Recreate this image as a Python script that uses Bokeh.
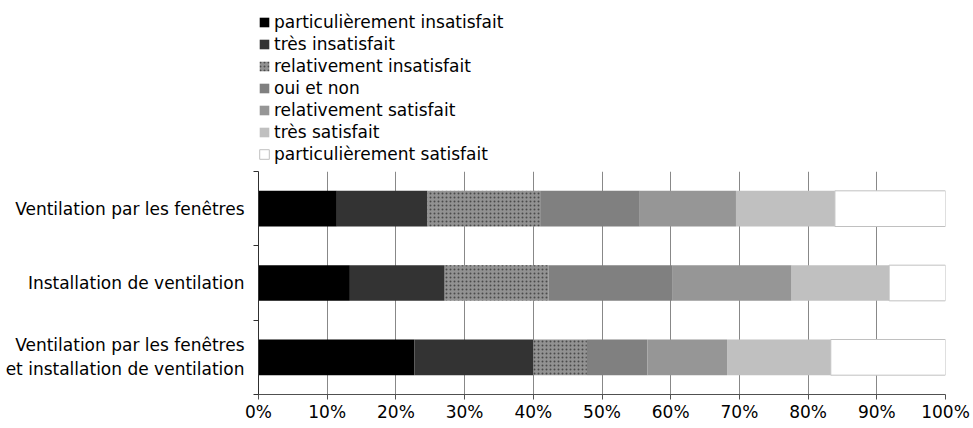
from bokeh.plotting import figure
from bokeh.layouts import column
from bokeh.models import ColumnDataSource, Legend, LegendItem, FixedTicker, PrintfTickFormatter, Range1d
from bokeh.embed import file_html
from bokeh.resources import INLINE

categories = ["Ventilation par les fenêtres",
              "Installation de ventilation",
              "Ventilation par les fenêtres\net installation de ventilation"]
series = ["particulièrement insatisfait", "très insatisfait", "relativement insatisfait",
          "oui et non", "relativement satisfait", "très satisfait", "particulièrement satisfait"]
part_insat = [11.4, 13.3, 22.7]
tres_insat = [13.2, 13.8, 17.3]
rel_insat = [16.4, 15.1, 7.8]
oui_non = [14.5, 18.1, 8.8]
rel_sat = [14.0, 17.3, 11.6]
tres_sat = [14.4, 14.2, 15.1]
part_sat = [16.1, 8.2, 16.7]
x_ticks = [0, 10, 20, 30, 40, 50, 60, 70, 80, 90, 100]

colors = ["#000000", "#333333", "#929292", "#808080", "#969696", "#c0c0c0", "#ffffff"]
lines = [None, None, None, None, None, None, "#c0c0c0"]
hatches = [" ", " ", "dot", " ", " ", " ", " "]
keys = ["s0", "s1", "s2", "s3", "s4", "s5", "s6"]

ypos = [len(categories) - i - 0.5 for i in range(len(categories))]
data = dict(y=ypos)
for k, v in zip(keys, [part_insat, tres_insat, rel_insat, oui_non, rel_sat, tres_sat, part_sat]):
    data[k] = v
src = ColumnDataSource(data)

FONT = "DejaVu Sans"
FS = "17px"
HATCH = dict(hatch_color="#4a4a4a", hatch_scale=4, hatch_weight=1.2)

# ---- legend strip (separate figure so the legend is not clipped) ----
lf = figure(width=973, height=167, output_backend="svg", toolbar_location=None,
            x_range=Range1d(0, 1), y_range=Range1d(100, 101),
            min_border_left=0, min_border_right=0, min_border_top=0, min_border_bottom=0)
lf.axis.visible = False
lf.grid.visible = False
lf.outline_line_color = None
lrs = []
for k, c, lc, h in zip(keys, colors, lines, hatches):
    lrs.append(lf.hbar(y="y", right=k, height=0.5, source=src,
                       fill_color=c, line_color=lc, hatch_pattern=h, **HATCH))
items = [LegendItem(label=s, renderers=[r]) for s, r in zip(series, lrs)]
legend = Legend(items=items, location=(0, 3), orientation="vertical",
                glyph_width=12, glyph_height=12, label_height=21, spacing=1,
                label_standoff=4, padding=0, margin=0, border_line_color=None,
                background_fill_alpha=0,
                label_text_font=FONT, label_text_font_size=FS, label_text_color="#000000")
lf.add_layout(legend, "center")

# ---- main chart ----
p = figure(width=973, height=261, output_backend="svg", toolbar_location=None,
           x_range=Range1d(0, 100), y_range=Range1d(0, 3),
           min_border_left=258, min_border_right=28, min_border_top=4, min_border_bottom=34)
p.outline_line_color = None

p.hbar_stack(keys, y="y", height=0.48, source=src,
             fill_color=colors, line_color=lines, hatch_pattern=hatches, **HATCH)

p.xaxis.ticker = FixedTicker(ticks=x_ticks)
p.xaxis.formatter = PrintfTickFormatter(format="%d%%")
p.xaxis.major_tick_out = 5
p.xaxis.major_tick_in = 0
p.xaxis.minor_tick_out = 0
p.xaxis.minor_tick_in = 0
p.xaxis.major_label_standoff = 2
p.xaxis.axis_line_color = "#505050"
p.xaxis.major_tick_line_color = "#505050"

p.yaxis.ticker = FixedTicker(ticks=ypos, minor_ticks=[0, 1, 2, 3])
p.yaxis.major_label_overrides = {y: c for y, c in zip(ypos, categories)}
p.yaxis.major_tick_out = 0
p.yaxis.major_tick_in = 0
p.yaxis.minor_tick_out = 5
p.yaxis.minor_tick_in = 0
p.yaxis.major_label_standoff = 9
p.yaxis.axis_line_color = "#303030"
p.yaxis.minor_tick_line_color = "#303030"

for ax in (p.xaxis, p.yaxis):
    ax.major_label_text_font = FONT
    ax.major_label_text_font_size = FS
    ax.major_label_text_color = "#000000"

p.xgrid.ticker = FixedTicker(ticks=x_ticks)
p.xgrid.grid_line_color = "#888888"
p.ygrid.grid_line_color = None

layout = column(lf, p, spacing=0)
open("out.html", "w").write(file_html(layout, INLINE))
